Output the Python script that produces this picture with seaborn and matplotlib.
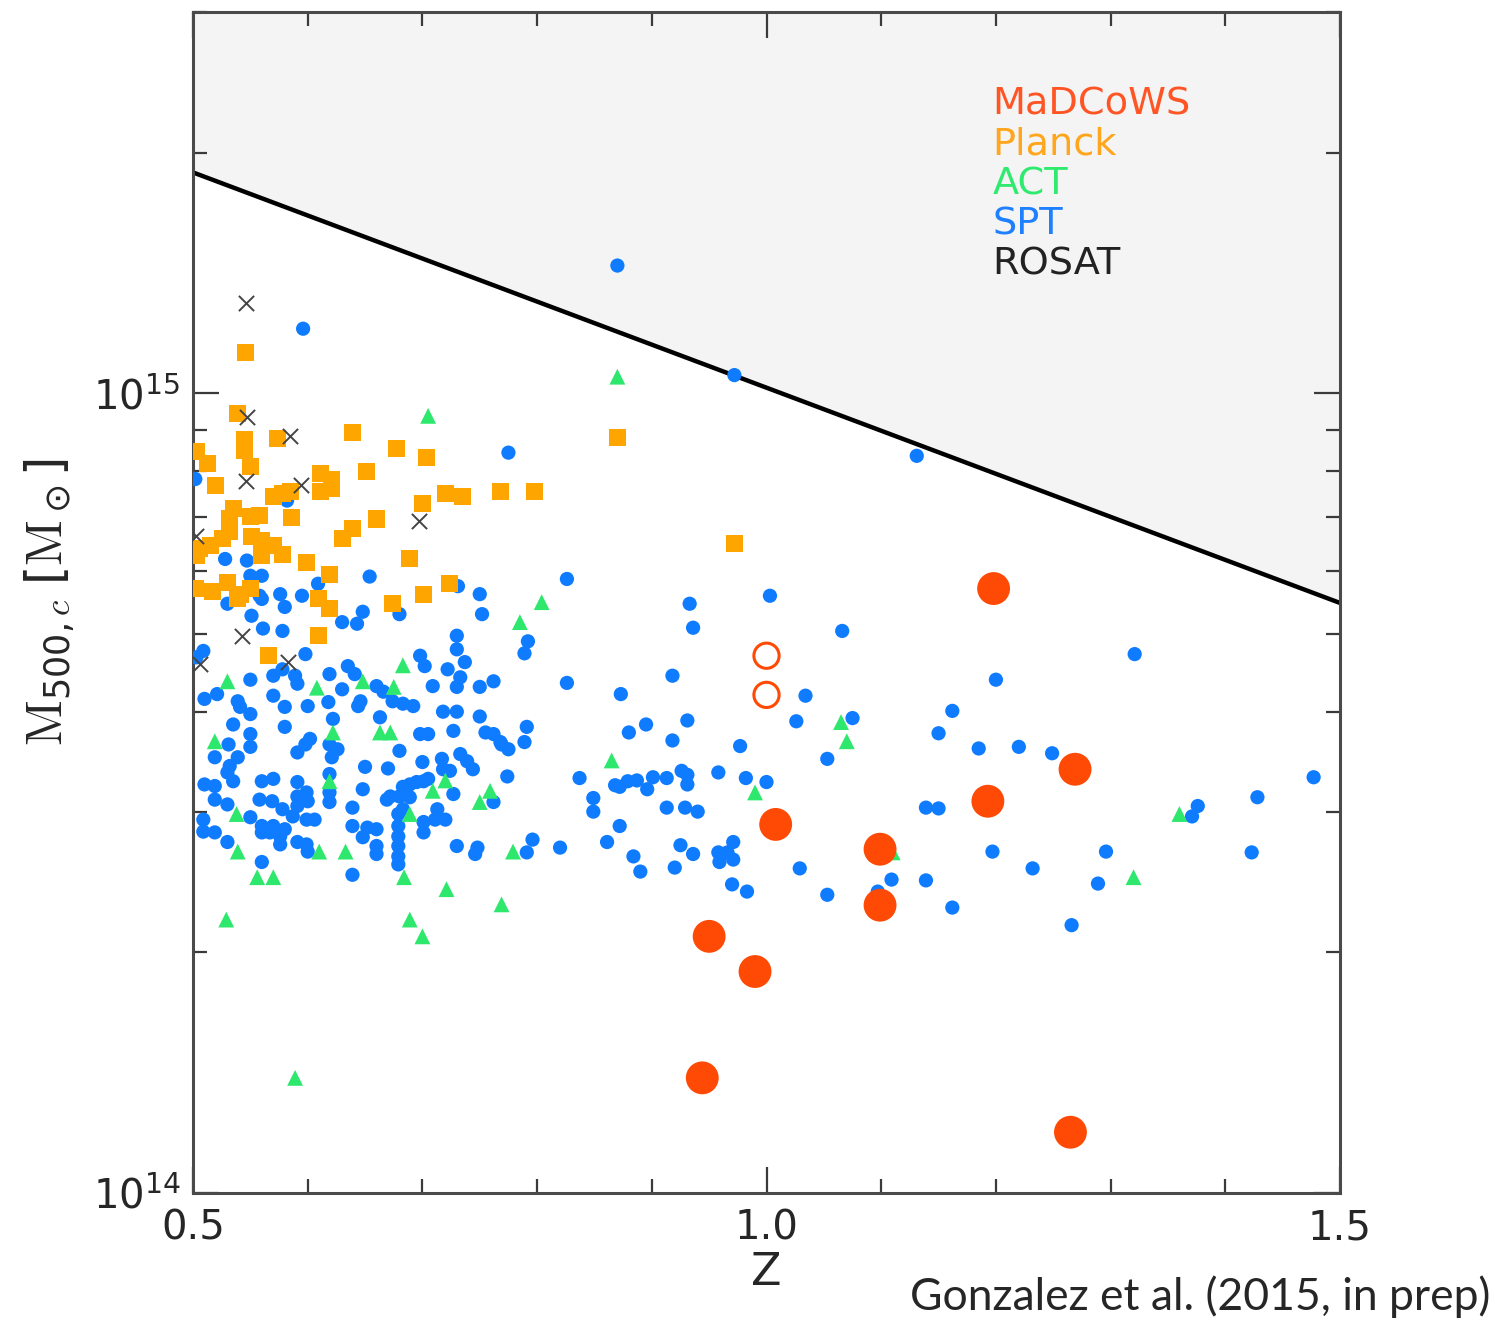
import numpy as np
import pandas as pd
import matplotlib
matplotlib.use("Agg")
import matplotlib.pyplot as plt
from matplotlib.ticker import MultipleLocator, LogLocator, NullFormatter, FormatStrFormatter
import seaborn as sns

# ---- cluster samples: redshift and log10(M500c / Msun) ----
madcows_z = [1.198, 1.269, 1.193, 1.008, 1.099, 1.099, 0.950, 0.990, 0.944, 1.265]
madcows_logm = [14.756, 14.530, 14.490, 14.461, 14.430, 14.360, 14.321, 14.277, 14.144, 14.076]

madcows_open_z = [1.000, 1.000]
madcows_open_logm = [14.672, 14.623]

planck_z = [0.546, 0.539, 0.545, 0.545, 0.574, 0.639, 0.677, 0.704, 0.503, 0.513,
            0.550, 0.520, 0.611, 0.621, 0.611, 0.621, 0.651, 0.570, 0.578, 0.585,
            0.700, 0.720, 0.735, 0.768, 0.798, 0.535, 0.532, 0.558, 0.550, 0.586,
            0.660, 0.639, 0.630, 0.532, 0.526, 0.515, 0.506, 0.503, 0.551, 0.560,
            0.570, 0.560, 0.578, 0.689, 0.599, 0.619, 0.724, 0.701, 0.502, 0.517,
            0.530, 0.550, 0.541, 0.870, 0.972, 0.539, 0.609, 0.619, 0.674, 0.609,
            0.566]
planck_logm = [15.051, 14.975, 14.942, 14.929, 14.944, 14.951, 14.931, 14.920, 14.927, 14.912,
               14.909, 14.885, 14.900, 14.893, 14.877, 14.881, 14.902, 14.871, 14.875, 14.877,
               14.863, 14.875, 14.871, 14.878, 14.877, 14.856, 14.843, 14.847, 14.846, 14.845,
               14.843, 14.831, 14.818, 14.827, 14.818, 14.810, 14.806, 14.797, 14.821, 14.816,
               14.810, 14.797, 14.799, 14.793, 14.788, 14.773, 14.762, 14.749, 14.756, 14.752,
               14.764, 14.756, 14.749, 14.945, 14.812, 14.743, 14.743, 14.731, 14.737, 14.697,
               14.672]

rosat_z = [0.546, 0.547, 0.585, 0.546, 0.594, 0.697, 0.503, 0.543, 0.583, 0.506]
rosat_logm = [15.113, 14.971, 14.947, 14.891, 14.885, 14.841, 14.822, 14.697, 14.664, 14.662]

act_z = [0.870, 0.705, 0.804, 0.785, 0.683, 0.648, 0.675, 0.608, 0.530, 0.519,
         0.622, 0.663, 0.672, 0.619, 0.720, 0.709, 0.759, 0.750, 0.689, 0.538,
         0.539, 0.610, 0.633, 0.779, 0.556, 0.570, 0.684, 0.721, 0.769, 0.529,
         0.689, 0.700, 0.589, 0.865, 0.990, 1.065, 1.070, 1.110, 1.360, 1.320]
act_logm = [15.021, 14.972, 14.739, 14.714, 14.660, 14.640, 14.633, 14.632, 14.640, 14.565,
            14.576, 14.576, 14.576, 14.515, 14.516, 14.503, 14.503, 14.489, 14.474, 14.474,
            14.427, 14.427, 14.427, 14.427, 14.395, 14.395, 14.395, 14.380, 14.361, 14.342,
            14.342, 14.321, 14.144, 14.541, 14.501, 14.589, 14.565, 14.426, 14.474, 14.395]

spt_z = [0.870, 0.972, 1.131, 0.596, 0.775, 0.502, 0.582, 0.528, 0.547, 0.550,
         0.560, 0.609, 0.654, 0.731, 0.750, 0.576, 0.595, 0.558, 0.530, 0.560,
         0.580, 0.551, 0.561, 0.578, 0.630, 0.643, 0.648, 0.680, 0.752, 0.509,
         0.503, 0.598, 0.570, 0.578, 0.589, 0.591, 0.550, 0.619, 0.635, 0.641,
         0.630, 0.660, 0.666, 0.674, 0.683, 0.692, 0.646, 0.644, 0.698, 0.702,
         0.730, 0.730, 0.737, 0.722, 0.733, 0.730, 0.709, 0.750, 0.762, 0.792,
         0.789, 0.510, 0.521, 0.539, 0.541, 0.550, 0.535, 0.570, 0.580, 0.580,
         0.600, 0.618, 0.622, 0.663, 0.718, 0.730, 0.727, 0.750, 0.755, 0.762,
         0.768, 0.775, 0.791, 0.789, 0.698, 0.705, 0.680, 0.550, 0.550, 0.531,
         0.602, 0.598, 0.591, 0.619, 0.626, 0.621, 0.519, 0.539, 0.532, 0.530,
         0.535, 0.510, 0.519, 0.519, 0.530, 0.560, 0.570, 0.591, 0.650, 0.670,
         0.648, 0.619, 0.619, 0.619, 0.599, 0.600, 0.591, 0.591, 0.700, 0.717,
         0.718, 0.724, 0.701, 0.705, 0.695, 0.689, 0.683, 0.672, 0.680, 0.689,
         0.683, 0.679, 0.679, 0.679, 0.679, 0.679, 0.679, 0.669, 0.733, 0.739,
         0.744, 0.727, 0.774, 0.713, 0.711, 0.720, 0.701, 0.701, 0.639, 0.639,
         0.652, 0.660, 0.648, 0.660, 0.660, 0.762, 0.509, 0.509, 0.519, 0.530,
         0.550, 0.560, 0.560, 0.570, 0.567, 0.576, 0.580, 0.576, 0.558, 0.569,
         0.578, 0.587, 0.591, 0.599, 0.600, 0.599, 0.606, 0.560, 0.639, 0.730,
         0.746, 0.748, 0.791, 0.796,
         0.826, 0.933, 0.936, 1.003, 1.066, 0.826, 0.918, 0.873, 1.034, 1.026,
         1.075, 0.769, 0.880, 0.895, 0.931, 0.918, 0.977, 1.053, 0.837, 0.868,
         0.872, 0.879, 0.887, 0.896, 0.901, 0.913, 0.926, 0.931, 0.931, 0.849,
         0.849, 0.913, 0.929, 0.940, 0.958, 0.982, 1.000, 0.872, 0.820, 0.861,
         0.884, 0.890, 0.925, 0.936, 0.920, 0.958, 0.959, 0.971, 0.971, 0.966,
         0.970, 0.983, 1.029, 1.053, 1.109, 1.097,
         1.321, 1.200, 1.162, 1.150, 1.185, 1.220, 1.249, 1.139, 1.150, 1.376,
         1.371, 1.428, 1.477, 1.197, 1.296, 1.232, 1.289, 1.139, 1.162, 1.266,
         1.423]
spt_logm = [15.160, 15.023, 14.922, 15.081, 14.926, 14.893, 14.866, 14.793, 14.791, 14.772,
            14.772, 14.762, 14.771, 14.759, 14.749, 14.749, 14.747, 14.747, 14.737, 14.743,
            14.733, 14.722, 14.706, 14.703, 14.714, 14.712, 14.727, 14.724, 14.724, 14.678,
            14.670, 14.674, 14.647, 14.655, 14.647, 14.637, 14.642, 14.649, 14.659, 14.649,
            14.630, 14.634, 14.627, 14.615, 14.612, 14.609, 14.615, 14.609, 14.672, 14.659,
            14.697, 14.680, 14.664, 14.655, 14.645, 14.633, 14.634, 14.633, 14.640, 14.690,
            14.675, 14.618, 14.624, 14.615, 14.608, 14.599, 14.586, 14.622, 14.608, 14.583,
            14.609, 14.614, 14.593, 14.595, 14.602, 14.602, 14.578, 14.596, 14.576, 14.574,
            14.564, 14.555, 14.583, 14.564, 14.574, 14.574, 14.553, 14.574, 14.558, 14.561,
            14.568, 14.561, 14.551, 14.561, 14.555, 14.545, 14.545, 14.545, 14.534, 14.526,
            14.515, 14.511, 14.509, 14.492, 14.486, 14.515, 14.518, 14.514, 14.533, 14.531,
            14.505, 14.524, 14.501, 14.489, 14.501, 14.490, 14.496, 14.484, 14.539, 14.543,
            14.530, 14.528, 14.515, 14.518, 14.514, 14.511, 14.508, 14.496, 14.496, 14.495,
            14.480, 14.474, 14.459, 14.446, 14.434, 14.421, 14.411, 14.492, 14.549, 14.540,
            14.530, 14.499, 14.521, 14.480, 14.467, 14.467, 14.464, 14.451, 14.482, 14.459,
            14.457, 14.455, 14.445, 14.434, 14.424, 14.489, 14.467, 14.452, 14.451, 14.439,
            14.470, 14.459, 14.451, 14.459, 14.451, 14.446, 14.455, 14.436, 14.492, 14.490,
            14.480, 14.471, 14.439, 14.436, 14.427, 14.467, 14.467, 14.414, 14.398, 14.434,
            14.424, 14.432, 14.426, 14.442,
            14.768, 14.737, 14.707, 14.747, 14.703, 14.638, 14.647, 14.624, 14.622, 14.590,
            14.594, 14.561, 14.576, 14.586, 14.591, 14.566, 14.559, 14.543, 14.519, 14.510,
            14.508, 14.515, 14.516, 14.505, 14.520, 14.519, 14.528, 14.523, 14.511, 14.494,
            14.477, 14.482, 14.482, 14.477, 14.526, 14.519, 14.514, 14.459, 14.432, 14.439,
            14.421, 14.402, 14.435, 14.424, 14.407, 14.426, 14.414, 14.439, 14.417, 14.426,
            14.386, 14.377, 14.406, 14.373, 14.392, 14.377,
            14.674, 14.642, 14.603, 14.575, 14.556, 14.558, 14.550, 14.482, 14.481, 14.484,
            14.471, 14.495, 14.520, 14.427, 14.427, 14.406, 14.387, 14.391, 14.357, 14.335,
            14.426]

# exclusion boundary (straight line in z - log M)
limit_z = [0.5, 1.5]
limit_m = [1.89e15, 5.47e14]

survey_names = ["MaDCoWS", "Planck", "ACT", "SPT", "ROSAT"]
survey_colors = ["#ff5524", "#ffa61c", "#2eea6e", "#1f80ff", "#222222"]

c_madcows = "#ff4a05"
c_planck = "#ffa500"
c_act = "#2ee86e"
c_spt = "#0f7cff"
c_rosat = "#444444"


def frame(z, logm):
    return pd.DataFrame({"z": z, "M": 10.0 ** np.asarray(logm)})


sns.set_style("ticks")
plt.rcParams["font.family"] = ["DejaVu Sans"]
plt.rcParams["mathtext.default"] = "regular"

fig = plt.figure(figsize=(14.95, 13.23), dpi=100)
ax = fig.add_axes([193 / 1495, 130 / 1323, 1147 / 1495, 1181 / 1323])

ax.set_xscale("linear")
ax.set_yscale("log")
ax.set_xlim(0.5, 1.5)
ax.set_ylim(1e14, 3e15)

# shaded excluded region above the boundary
ax.fill_between(limit_z, limit_m, [3e15, 3e15], color="#f4f4f4", lw=0, zorder=0)
sns.lineplot(x=limit_z, y=limit_m, ax=ax, color="black", lw=3.2, zorder=2,
             estimator=None, sort=False)

sns.scatterplot(data=frame(spt_z, spt_logm), x="z", y="M", ax=ax, color=c_spt,
                marker="o", s=105, edgecolor="none", zorder=3)
sns.scatterplot(data=frame(planck_z, planck_logm), x="z", y="M", ax=ax, color=c_planck,
                marker="s", s=150, edgecolor="none", zorder=4)
sns.scatterplot(data=frame(act_z, act_logm), x="z", y="M", ax=ax, color=c_act,
                marker="^", s=130, edgecolor="none", zorder=5)
sns.scatterplot(data=frame(rosat_z, rosat_logm), x="z", y="M", ax=ax, color=c_rosat,
                marker="x", s=120, linewidth=1.4, zorder=5)
sns.scatterplot(data=frame(madcows_z, madcows_logm), x="z", y="M", ax=ax, color=c_madcows,
                marker="o", s=560, edgecolor="none", zorder=6)
sns.scatterplot(data=frame(madcows_open_z, madcows_open_logm), x="z", y="M", ax=ax,
                marker="o", s=330, facecolor="none", edgecolor=c_madcows, linewidth=2.2,
                zorder=6)

# survey labels
for i, (name, col) in enumerate(zip(survey_names, survey_colors)):
    ax.text(0.697, 0.922 - i * 0.0339, name, transform=ax.transAxes, color=col,
            fontsize=27.5, va="center", ha="left")

# axes styling
ax.xaxis.set_major_locator(MultipleLocator(0.5))
ax.xaxis.set_minor_locator(MultipleLocator(0.1))
ax.xaxis.set_major_formatter(FormatStrFormatter("%.1f"))
ax.yaxis.set_major_locator(LogLocator(base=10, numticks=10))
ax.yaxis.set_minor_locator(LogLocator(base=10, subs=np.arange(2, 10), numticks=20))
ax.yaxis.set_minor_formatter(NullFormatter())

ax.tick_params(which="both", direction="in", top=True, right=True,
               color="#3a3a3a", width=1.6)
ax.tick_params(which="major", length=19, labelsize=29)
ax.tick_params(axis="x", which="major", pad=11)
ax.tick_params(axis="y", which="major", pad=9)
ax.tick_params(which="minor", length=10)
for sp in ax.spines.values():
    sp.set_color("#4a4a4a")
    sp.set_linewidth(2.2)

ax.set_xlabel("Z", fontsize=32, labelpad=2)
ax.set_ylabel(r"$\mathrm{M}_{500,\mathit{c}}\ [\mathrm{M}_\odot]$", fontsize=36,
              math_fontfamily="cm", labelpad=12)

fig.text(0.997, 0.004, "Gonzalez et al. (2015, in prep)", ha="right", va="bottom",
         fontsize=32, family=["Lato", "DejaVu Sans"])

fig.savefig("out.png", dpi=100)
